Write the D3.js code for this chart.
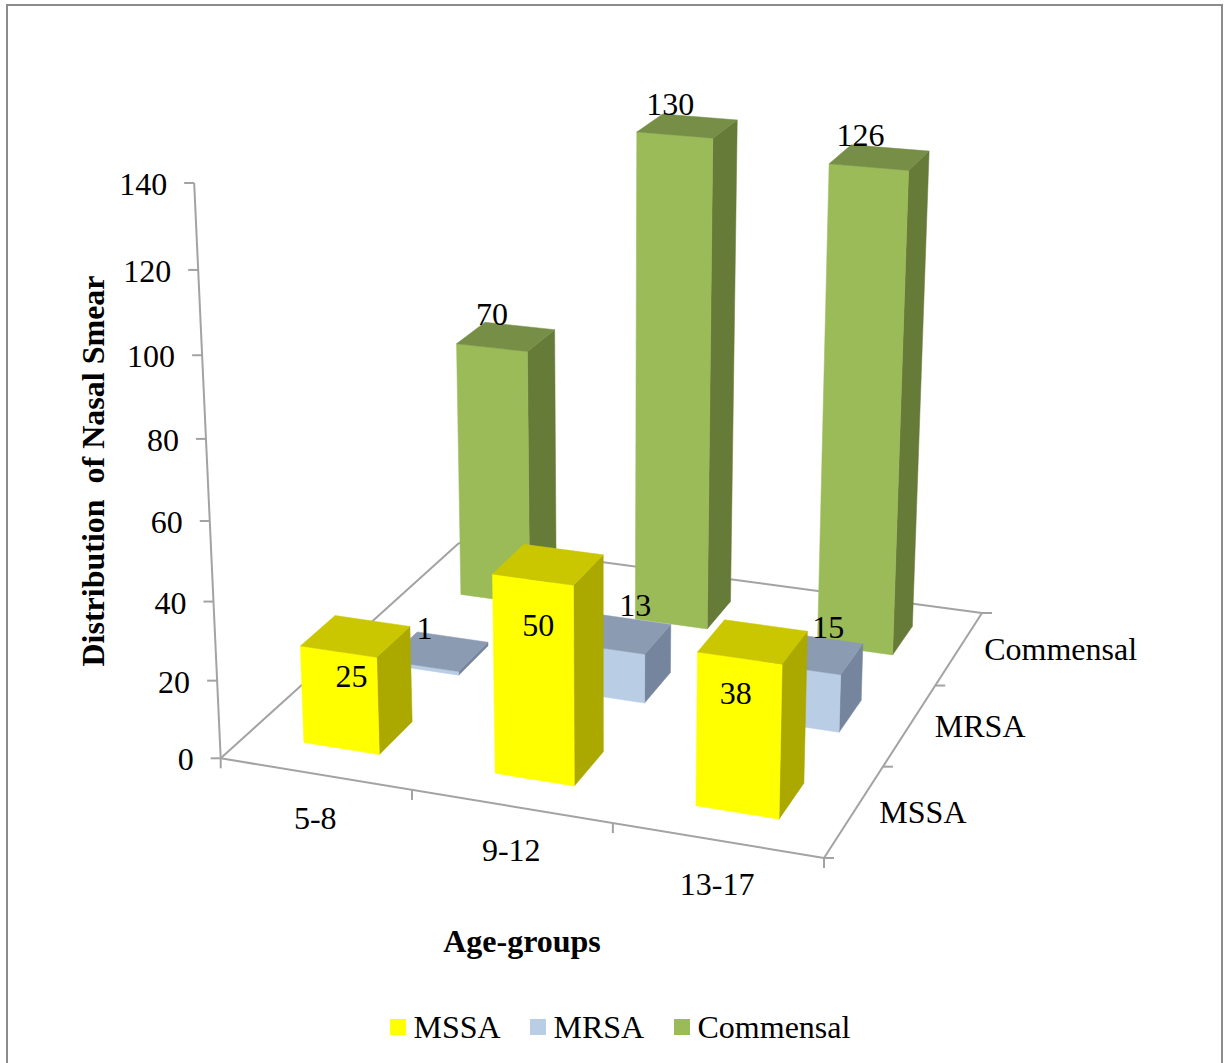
<!DOCTYPE html>
<html>
<head>
<meta charset="utf-8">
<title>Distribution of Nasal Smear</title>
<script src="https://d3js.org/d3.v7.min.js"></script>
<style>
  html, body { margin: 0; padding: 0; background: #fff; }
  svg { display: block; }
  text { font-family: "Liberation Serif", "Times New Roman", serif; font-size: 32px; fill: #000; }
  .title { font-weight: bold; white-space: pre; }
</style>
</head>
<body>
<div id="chart"></div>
<script>
const ageGroups = ["5-8", "9-12", "13-17"];
const seriesNames = ["MSSA", "MRSA", "Commensal"];
const mssaValues = [25, 50, 38];
const mrsaValues = [1, 13, 15];
const commensalValues = [70, 130, 126];
const valueTicks = [0, 20, 40, 60, 80, 100, 120, 140];

const seriesValues = [mssaValues, mrsaValues, commensalValues];

// face colours per series: front, top, side
const seriesColors = [
  { front: "#FFFF00", top: "#CAC700", side: "#ABA800" },
  { front: "#B9CDE5", top: "#8B9BB2", side: "#75859D" },
  { front: "#9BBB59", top: "#768E45", side: "#667B38" },
];

// hand placed data labels, offset from the centre of each bar's top face
const labelNudges = [
  [[-4, 40], [-10, 61], [-17, 51]],
  [[-13, -23], [15, -29], [16, -27]],
  [[-14, -23], [-17, -22], [-19, -22]],
];

const width = 1227;
const height = 1063;
const axisColor = "#A3A3A3";

// corners of the chart floor on the page
const floorCorners = [
  [220.7, 758.3],
  [824, 858],
  [982, 613],
  [459, 543],
];
const verticalVanish = [610, 9200];
const heightPerspective = 0.0638;

const floorMap = (function () {
  const [[x0, y0], [x1, y1], [x2, y2], [x3, y3]] = floorCorners;
  const dx1 = x1 - x2;
  const dx2 = x3 - x2;
  const dy1 = y1 - y2;
  const dy2 = y3 - y2;
  const sx = x0 - x1 + x2 - x3;
  const sy = y0 - y1 + y2 - y3;
  const den = dx1 * dy2 - dx2 * dy1;
  const g = (sx * dy2 - dx2 * sy) / den;
  const h = (dx1 * sy - sx * dy1) / den;
  return {
    a: x1 - x0 + g * x1,
    b: x3 - x0 + h * x3,
    c: x0,
    d: y1 - y0 + g * y1,
    e: y3 - y0 + h * y3,
    f: y0,
    g,
    h,
  };
})();

const xScale = d3.scaleBand().domain(ageGroups).range([0, 1]).paddingInner(0.6).paddingOuter(0.3);
const yScale = d3.scaleBand().domain(seriesNames).range([0, 1]).paddingInner(0.6).paddingOuter(0.3);
const zScale = d3.scaleLinear().domain([0, 140]).range([0, 1]);

// u, v run over the floor (0..1), z is a value on the vertical axis
function project(u, v, z) {
  const m = floorMap;
  const w = m.g * u + m.h * v + 1;
  const fx = (m.a * u + m.b * v + m.c) / w;
  const fy = (m.d * u + m.e * v + m.f) / w;
  const k = heightPerspective * zScale(z);
  const t = -k / (w - k);
  return [fx + (verticalVanish[0] - fx) * t, fy + (verticalVanish[1] - fy) * t];
}

const svg = d3.select("#chart").append("svg").attr("width", width).attr("height", height);

// outer frame, open at the bottom
svg.append("path")
  .attr("d", "M7,1063V5H1222V1063")
  .attr("fill", "none")
  .attr("stroke", "#8C8C8C")
  .attr("stroke-width", 2);

const axes = svg.append("g").attr("fill", "none").attr("stroke", axisColor).attr("stroke-width", 2);
const line = d3.line();

function drawLine(a, b) {
  axes.append("path").attr("d", line([a, b]));
}

// floor outline
drawLine(project(0, 0, 0), project(1, 0, 0));
drawLine(project(1, 0, 0), project(1, 1, 0));
drawLine(project(1, 1, 0), project(0, 1, 0));
drawLine(project(0, 1, 0), project(0, 0, 0));

// vertical axis
drawLine(project(0, 0, 0), project(0, 0, 140));
valueTicks.forEach((t) => {
  const p = project(0, 0, t);
  drawLine(p, [p[0] - 10, p[1]]);
  svg.append("text")
    .attr("x", p[0] - 27)
    .attr("y", p[1] + 1)
    .attr("text-anchor", "end")
    .attr("dominant-baseline", "central")
    .text(t);
});

// floor ticks along the front and right edges
d3.range(ageGroups.length + 1).forEach((i) => {
  const p = project(i / ageGroups.length, 0, 0);
  drawLine(p, [p[0], p[1] + 10]);
});
d3.range(seriesNames.length + 1).forEach((i) => {
  const p = project(1, i / seriesNames.length, 0);
  drawLine(p, [p[0] + 10, p[1]]);
});

ageGroups.forEach((name) => {
  const p = project(xScale(name) + xScale.bandwidth() / 2, 0, 0);
  svg.append("text")
    .attr("x", p[0])
    .attr("y", p[1] + 44)
    .attr("text-anchor", "middle")
    .attr("dominant-baseline", "central")
    .text(name);
});

seriesNames.forEach((name) => {
  const p = project(1, yScale(name) + yScale.bandwidth() / 2, 0);
  svg.append("text")
    .attr("x", p[0] + 25)
    .attr("y", p[1] + 1)
    .attr("dominant-baseline", "central")
    .text(name);
});

// bars, painted back to front
const bars = svg.append("g");
const labels = [];
d3.range(seriesNames.length).reverse().forEach((s) => {
  ageGroups.forEach((group, i) => {
    const value = seriesValues[s][i];
    const u0 = xScale(group);
    const u1 = u0 + xScale.bandwidth();
    const v0 = yScale(seriesNames[s]);
    const v1 = v0 + yScale.bandwidth();
    const colors = seriesColors[s];

    const faces = [
      { fill: colors.side, pts: [project(u1, v0, 0), project(u1, v1, 0), project(u1, v1, value), project(u1, v0, value)] },
      { fill: colors.front, pts: [project(u0, v0, 0), project(u1, v0, 0), project(u1, v0, value), project(u0, v0, value)] },
      { fill: colors.top, pts: [project(u0, v0, value), project(u1, v0, value), project(u1, v1, value), project(u0, v1, value)] },
    ];
    const g = bars.append("g");
    g.selectAll("polygon")
      .data(faces)
      .enter()
      .append("polygon")
      .attr("points", (d) => d.pts.map((p) => p.join(",")).join(" "))
      .attr("fill", (d) => d.fill)
      .attr("stroke", (d) => d.fill)
      .attr("stroke-width", 0.5);

    const c = project((u0 + u1) / 2, (v0 + v1) / 2, value);
    const nudge = labelNudges[s][i];
    labels.push({ x: c[0] + nudge[0], y: c[1] + nudge[1], value });
  });
});

svg.append("g")
  .selectAll("text")
  .data(labels)
  .enter()
  .append("text")
  .attr("x", (d) => d.x)
  .attr("y", (d) => d.y)
  .attr("text-anchor", "middle")
  .attr("dominant-baseline", "central")
  .text((d) => d.value);

// axis titles
svg.append("text")
  .attr("class", "title")
  .attr("x", 522)
  .attr("y", 952)
  .attr("text-anchor", "middle")
  .text("Age-groups");

svg.append("text")
  .attr("class", "title")
  .attr("transform", "translate(104,471) rotate(-90)")
  .attr("text-anchor", "middle")
  .text("Distribution  of Nasal Smear");

// legend
const legendX = [390, 530, 674];
const legend = svg.append("g");
seriesNames.forEach((name, i) => {
  legend.append("rect")
    .attr("x", legendX[i])
    .attr("y", 1019)
    .attr("width", 16)
    .attr("height", 16)
    .attr("fill", seriesColors[i].front);
  legend.append("text")
    .attr("x", legendX[i] + 23.5)
    .attr("y", 1038)
    .text(name);
});
</script>
</body>
</html>
